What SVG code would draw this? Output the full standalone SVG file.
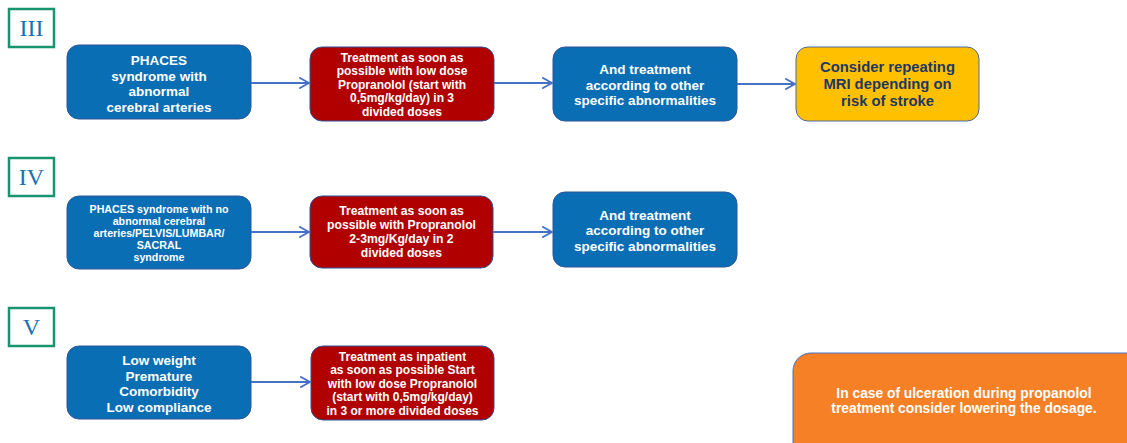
<svg xmlns="http://www.w3.org/2000/svg" width="1127" height="443" viewBox="0 0 1127 443">
  <defs>
    <marker id="arrow" viewBox="0 0 12 12" refX="11" refY="6" markerWidth="12" markerHeight="12" markerUnits="userSpaceOnUse" orient="auto">
      <path d="M2,1 L11,6 L2,11" fill="none" stroke="#4472c4" stroke-width="2" stroke-linecap="round" stroke-linejoin="round"/>
    </marker>
    <style>
      .tag { fill: #ffffff; stroke: #17956e; stroke-width: 2.5; }
      .tagtxt { font-family: "Liberation Serif", serif; font-size: 24px; fill: #2070b0; text-anchor: middle; }
      .blue { fill: #0a6eb4; stroke: #2f5597; stroke-width: 1; }
      .red { fill: #b00000; stroke: #2f5597; stroke-width: 1; }
      .yellow { fill: #ffc000; stroke: #4a6a9a; stroke-width: 1; }
      .orange { fill: #f58025; stroke: #4472c4; stroke-width: 1; }
      .t { font-family: "Liberation Sans", Arial, sans-serif; font-weight: bold; fill: #ffffff; text-anchor: middle; }
      .dark { fill: #1f3864; }
      .link { stroke: #4472c4; stroke-width: 2.2; fill: none; marker-end: url(#arrow); }
    </style>
  </defs>

  <!-- row labels -->
  <g id="label-III"><rect class="tag" x="9" y="9" width="45" height="38"/><text class="tagtxt" x="31.5" y="36">III</text></g>
  <g id="label-IV"><rect class="tag" x="9" y="158" width="45" height="38"/><text class="tagtxt" x="31.5" y="185">IV</text></g>
  <g id="label-V"><rect class="tag" x="9" y="308" width="45" height="38"/><text class="tagtxt" x="31.5" y="335">V</text></g>

  <!-- row III -->
  <g id="n3a">
    <rect class="blue" x="67" y="45" width="184" height="74" rx="12"/>
    <text class="t" font-size="13.5" x="159"><tspan x="159" y="65">PHACES</tspan><tspan x="159" y="80.5">syndrome with</tspan><tspan x="159" y="96">abnormal</tspan><tspan x="159" y="111.5">cerebral arteries</tspan></text>
  </g>
  <g id="n3b">
    <rect class="red" x="310" y="47" width="184" height="74" rx="12"/>
    <text class="t" font-size="12" x="402"><tspan x="402" y="61.5">Treatment as soon as</tspan><tspan x="402" y="75">possible with low dose</tspan><tspan x="402" y="88.5">Propranolol (start with</tspan><tspan x="402" y="102">0,5mg/kg/day) in 3</tspan><tspan x="402" y="115.5">divided doses</tspan></text>
  </g>
  <g id="n3c">
    <rect class="blue" x="553" y="47" width="184" height="74" rx="12"/>
    <text class="t" font-size="13.5" x="645"><tspan x="645" y="74">And treatment</tspan><tspan x="645" y="89.5">according to other</tspan><tspan x="645" y="105">specific abnormalities</tspan></text>
  </g>
  <g id="n3d">
    <rect class="yellow" x="796" y="47" width="183" height="74" rx="12"/>
    <text class="t dark" font-size="14.8" x="887.5"><tspan x="887.5" y="72">Consider repeating</tspan><tspan x="887.5" y="89">MRI depending on</tspan><tspan x="887.5" y="106">risk of stroke</tspan></text>
  </g>

  <!-- row IV -->
  <g id="n4a">
    <rect class="blue" x="67" y="196" width="184" height="73" rx="12"/>
    <text class="t" font-size="10.7" x="159"><tspan x="159" y="213">PHACES syndrome with no</tspan><tspan x="159" y="225">abnormal cerebral</tspan><tspan x="159" y="237">arteries/PELVIS/LUMBAR/</tspan><tspan x="159" y="249">SACRAL</tspan><tspan x="159" y="261">syndrome</tspan></text>
  </g>
  <g id="n4b">
    <rect class="red" x="310" y="196" width="183" height="72" rx="12"/>
    <text class="t" font-size="12.2" x="401.5"><tspan x="401.5" y="215">Treatment as soon as</tspan><tspan x="401.5" y="229">possible with Propranolol</tspan><tspan x="401.5" y="243">2-3mg/Kg/day in 2</tspan><tspan x="401.5" y="257">divided doses</tspan></text>
  </g>
  <g id="n4c">
    <rect class="blue" x="553" y="192" width="184" height="75" rx="12"/>
    <text class="t" font-size="13.5" x="645"><tspan x="645" y="219.5">And treatment</tspan><tspan x="645" y="235">according to other</tspan><tspan x="645" y="250.5">specific abnormalities</tspan></text>
  </g>

  <!-- row V -->
  <g id="n5a">
    <rect class="blue" x="67" y="346" width="184" height="73" rx="12"/>
    <text class="t" font-size="13.5" x="159"><tspan x="159" y="365">Low weight</tspan><tspan x="159" y="380.5">Premature</tspan><tspan x="159" y="396">Comorbidity</tspan><tspan x="159" y="411.5">Low compliance</tspan></text>
  </g>
  <g id="n5b">
    <rect class="red" x="311" y="346" width="183" height="74" rx="12"/>
    <text class="t" font-size="12" x="402.5"><tspan x="402.5" y="360.5">Treatment as inpatient</tspan><tspan x="402.5" y="374">as soon as possible Start</tspan><tspan x="402.5" y="387.5">with low dose Propranolol</tspan><tspan x="402.5" y="401">(start with 0,5mg/kg/day)</tspan><tspan x="402.5" y="414.5">in 3 or more divided doses</tspan></text>
  </g>
  <g id="note">
    <rect class="orange" x="793" y="353" width="360" height="110" rx="18"/>
    <text class="t" font-size="13.8" x="964"><tspan x="964" y="397.5">In case of ulceration during propanolol</tspan><tspan x="964" y="413">treatment consider lowering the dosage.</tspan></text>
  </g>

  <!-- connectors -->
  <g id="connectors">
    <line class="link" x1="251" y1="83" x2="309" y2="83"/>
    <line class="link" x1="494" y1="83" x2="552" y2="83"/>
    <line class="link" x1="737" y1="84" x2="795" y2="84"/>
    <line class="link" x1="251" y1="232" x2="309" y2="232"/>
    <line class="link" x1="493" y1="232" x2="552" y2="232"/>
    <line class="link" x1="251" y1="382" x2="310" y2="382"/>
  </g>
</svg>
